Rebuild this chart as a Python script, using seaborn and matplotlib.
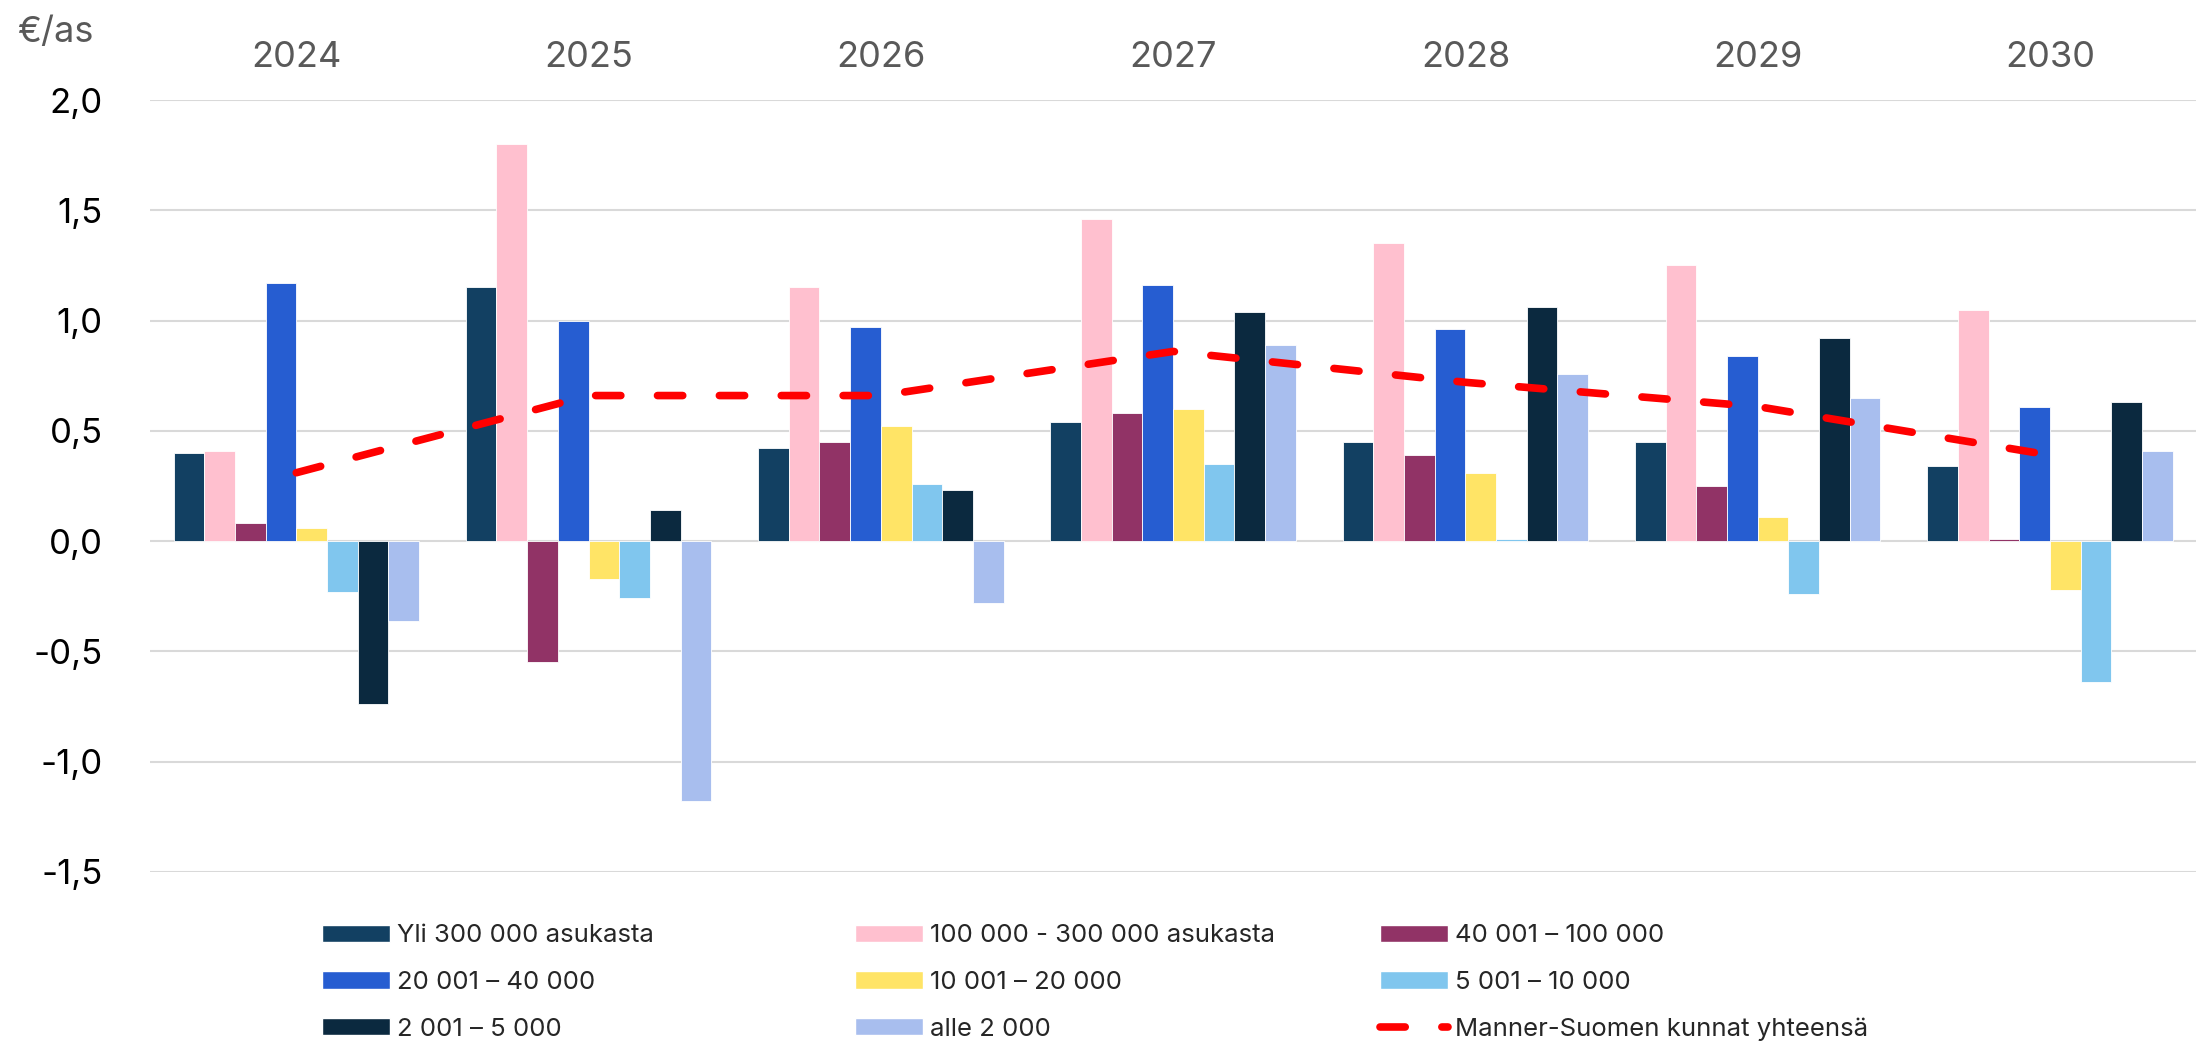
import pandas as pd
import matplotlib
matplotlib.use('Agg')
import matplotlib.pyplot as plt
from matplotlib.patches import Patch
from matplotlib.lines import Line2D
import seaborn as sns
import numpy as np

# Vuodet ja kuntakokoryhmät
vuodet = ['2024', '2025', '2026', '2027', '2028', '2029', '2030']
ryhmat = ['Yli 300 000 asukasta', '100 000 - 300 000 asukasta', '40 001 – 100 000',
          '20 001 – 40 000', '10 001 – 20 000', '5 001 – 10 000',
          '2 001 – 5 000', 'alle 2 000']
linja_nimi = 'Manner-Suomen kunnat yhteensä'

# Arvot (€/as) kuvasta luettuna
yli_300000 = [0.40, 1.15, 0.42, 0.54, 0.45, 0.45, 0.34]
v100_300 = [0.41, 1.80, 1.15, 1.46, 1.35, 1.25, 1.05]
v40_100 = [0.08, -0.55, 0.45, 0.58, 0.39, 0.25, 0.01]
v20_40 = [1.17, 1.00, 0.97, 1.16, 0.96, 0.84, 0.61]
v10_20 = [0.06, -0.17, 0.52, 0.60, 0.31, 0.11, -0.22]
v5_10 = [-0.23, -0.26, 0.26, 0.35, 0.01, -0.24, -0.64]
v2_5 = [-0.74, 0.14, 0.23, 1.04, 1.06, 0.92, 0.63]
alle_2000 = [-0.36, -1.18, -0.28, 0.89, 0.76, 0.65, 0.41]
yhteensa = [0.31, 0.66, 0.66, 0.86, 0.72, 0.61, 0.39]

varit = ['#124062', '#FFC0CF', '#913366', '#265DD1',
         '#FFE466', '#80C6EE', '#0B293F', '#A8BEEE']

# Pitkä muoto seabornia varten
df = pd.DataFrame({'Vuosi': vuodet})
for nimi, arvot in zip(ryhmat, [yli_300000, v100_300, v40_100, v20_40,
                                v10_20, v5_10, v2_5, alle_2000]):
    df[nimi] = arvot
df_long = df.melt(id_vars='Vuosi', var_name='Ryhmä', value_name='Arvo')

sns.set_theme(style='white')
plt.rcParams['font.family'] = ['Inter', 'DejaVu Sans']

fig = plt.figure(figsize=(22.08, 10.44), dpi=100)
ax = fig.add_axes([0.068, 0.1648, 0.9266, 0.7394])

sns.barplot(data=df_long, x='Vuosi', y='Arvo', hue='Ryhmä', hue_order=ryhmat,
            order=vuodet, palette=varit, width=0.84, saturation=1,
            edgecolor='white', linewidth=0.6, legend=False, ax=ax)

sns.lineplot(x=np.arange(len(vuodet)), y=yhteensa, color='#FF0000',
             linewidth=5.5, linestyle=(0, (3.3, 4.8)), dash_capstyle='round',
             ax=ax)

ax.set_ylim(-1.5, 2.0)
ax.set_xlim(-0.5, 6.5)
yticks = np.arange(-1.5, 2.01, 0.5)
ax.set_yticks(yticks)
ax.set_yticklabels([f'{t:.1f}'.replace('.', ',') for t in yticks])
ax.xaxis.tick_top()
ax.tick_params(axis='x', length=0, pad=19, labelsize=26, labelcolor='#595959')
ax.tick_params(axis='y', length=0, pad=34, labelsize=25, labelcolor='black')
ax.set_xlabel('')
ax.set_ylabel('')
ax.yaxis.grid(True, color='#D9D9D9', linewidth=1.5)
ax.set_axisbelow(True)
for s in ax.spines.values():
    s.set_visible(False)

fig.text(0.0077, 0.969, '€/as', fontsize=26, color='#595959', va='center', ha='left')

# Selite kolmessa sarakkeessa
kahvat = [Patch(facecolor=c) for c in varit]
kahvat.append(Line2D([0], [0], color='#FF0000', linewidth=5.5,
                     linestyle=(0, (3.3, 4.8)), dash_capstyle='round'))
nimet = ryhmat + [linja_nimi]
sarakkeet = [[0, 3, 6], [1, 4, 7], [2, 5, 8]]
x_paikat = [0.1458, 0.3872, 0.625]
for x0, idx in zip(x_paikat, sarakkeet):
    fig.legend([kahvat[i] for i in idx], [nimet[i] for i in idx],
               loc='upper left', bbox_to_anchor=(x0, 0.1145), frameon=False,
               fontsize=18.5, handlelength=2.65, handleheight=0.66,
               handletextpad=0.28, labelspacing=0.92, borderpad=0,
               borderaxespad=0)

plt.savefig('out.png', dpi=100)
